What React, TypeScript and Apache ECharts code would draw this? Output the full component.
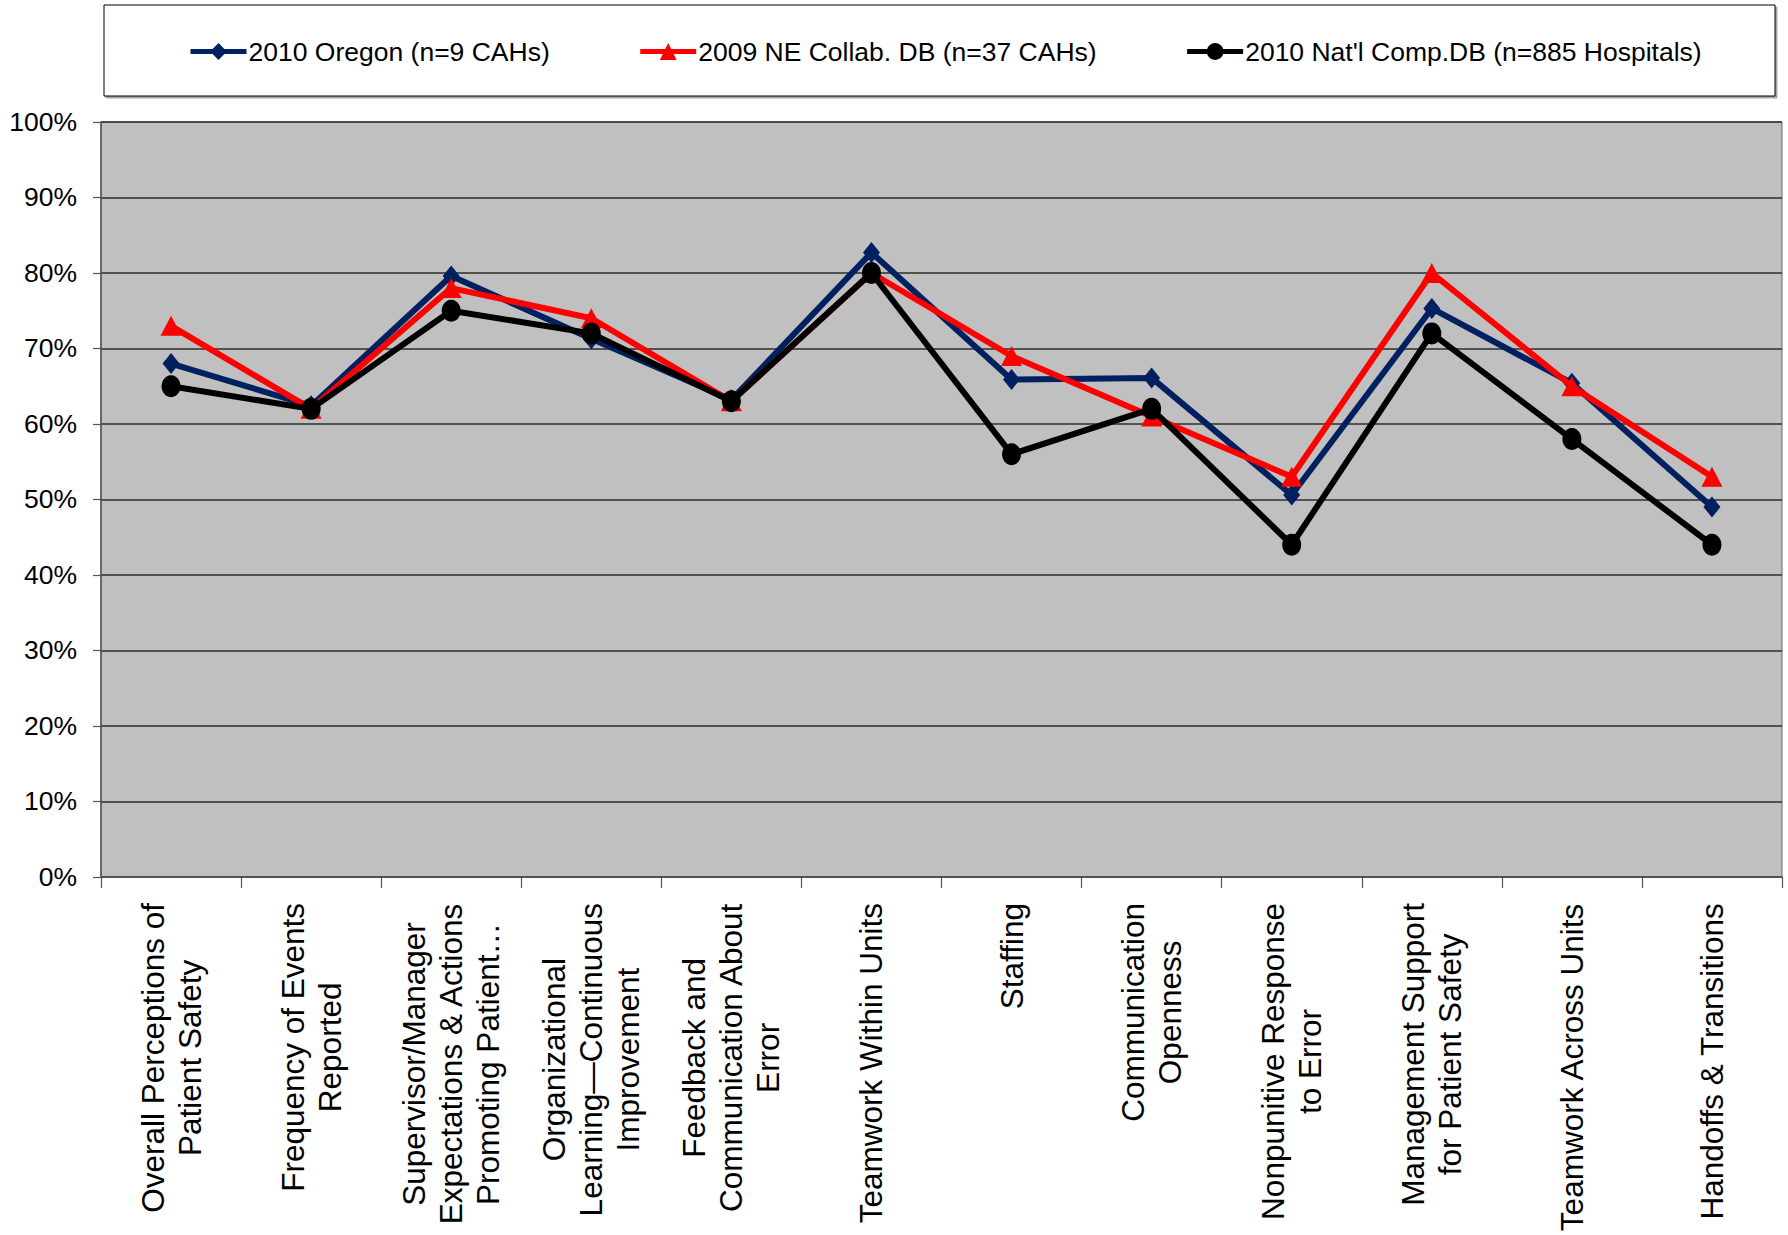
import React, { useEffect, useRef } from "react";
import * as echarts from "echarts";

// Patient-safety culture composites, % positive
const categories = [
  "Overall Perceptions of\nPatient Safety",
  "Frequency of Events\nReported",
  "Supervisor/Manager\nExpectations & Actions\nPromoting Patient…",
  "Organizational\nLearning—Continuous\nImprovement",
  "Feedback and\nCommunication About\nError",
  "Teamwork Within Units",
  "Staffing",
  "Communication\nOpenness",
  "Nonpunitive Response\nto Error",
  "Management Support\nfor Patient Safety",
  "Teamwork Across Units",
  "Handoffs & Transitions",
];

const oregon2010 = [68, 62.4, 79.6, 71.3, 63.2, 82.7, 65.9, 66.1, 50.6, 75.3, 65.4, 49];
const neCollab2009 = [73, 62, 78, 74, 63, 80, 69, 61, 53, 80, 65, 53];
const natlComp2010 = [65, 62, 75, 72, 63, 80, 56, 62, 44, 72, 58, 44];

const seriesNames = [
  "2010 Oregon (n=9 CAHs)",
  "2009 NE Collab. DB (n=37 CAHs)",
  "2010 Nat'l Comp.DB (n=885 Hospitals)",
];

const FONT = "'Liberation Sans', Arial, sans-serif";

export default function App() {
  const ref = useRef<HTMLDivElement>(null);

  useEffect(() => {
    if (!ref.current) return;
    const chart = echarts.init(ref.current, null, { renderer: "svg" });

    chart.setOption({
      animation: false,
      backgroundColor: "#ffffff",
      graphic: [
        {
          type: "rect",
          shape: { x: 104, y: 5, width: 1671, height: 91 },
          style: {
            fill: "#ffffff",
            stroke: "#000000",
            lineWidth: 1,
            shadowColor: "rgba(0,0,0,0.35)",
            shadowOffsetX: 2,
            shadowOffsetY: 2,
            shadowBlur: 0,
          },
          z: -1,
        },
      ],
      legend: {
        left: 188,
        top: 38,
        width: 1580,
        padding: 0,
        itemWidth: 56,
        itemHeight: 21,
        itemGap: 88,
        lineStyle: { width: 5 },
        textStyle: { fontFamily: FONT, fontSize: 26.5, color: "#000", padding: [0, 0, 0, -3] },
        data: seriesNames,
      },
      grid: {
        left: 101,
        right: 6,
        top: 122,
        height: 756,
        show: true,
        backgroundColor: "#C0C0C0",
        borderColor: "#6a6a6a",
        borderWidth: 1,
      },
      xAxis: {
        type: "category",
        data: categories,
        boundaryGap: true,
        axisLine: { show: true, lineStyle: { color: "#555", width: 1.5 } },
        axisTick: { show: true, length: 11, lineStyle: { color: "#555", width: 1.2 } },
        axisLabel: {
          interval: 0,
          rotate: 90,
          margin: 26,
          color: "#000",
          formatter: (v: string) =>
            v
              .split("\n")
              .map((l) => `{c|${l}}`)
              .join("\n"),
          rich: {
            c: {
              align: "center",
              fontFamily: FONT,
              fontSize: 31.5,
              lineHeight: 37,
              color: "#000",
            },
          },
        },
      },
      yAxis: {
        type: "value",
        min: 0,
        max: 100,
        interval: 10,
        axisLine: { show: true, lineStyle: { color: "#555", width: 1.5 } },
        axisTick: { show: true, length: 8, lineStyle: { color: "#555", width: 1.2 } },
        axisLabel: {
          formatter: "{value}%",
          margin: 24,
          color: "#000",
          fontFamily: FONT,
          fontSize: 26.5,
        },
        splitLine: { show: true, lineStyle: { color: "#2e2e2e", width: 1.6 } },
      },
      series: [
        {
          name: seriesNames[0],
          type: "line",
          data: oregon2010,
          symbol: "diamond",
          symbolSize: [17, 21],
          lineStyle: { color: "#002060", width: 6 },
          itemStyle: { color: "#002060" },
          z: 2,
        },
        {
          name: seriesNames[1],
          type: "line",
          data: neCollab2009,
          symbol: "triangle",
          symbolSize: [21, 20],
          lineStyle: { color: "#FF0000", width: 6 },
          itemStyle: { color: "#FF0000" },
          z: 3,
        },
        {
          name: seriesNames[2],
          type: "line",
          data: natlComp2010,
          symbol: "circle",
          symbolSize: [19, 22],
          lineStyle: { color: "#000000", width: 6 },
          itemStyle: { color: "#000000" },
          z: 4,
        },
      ],
    });

    return () => chart.dispose();
  }, []);

  return (
    <div
      ref={ref}
      style={{
        position: "fixed",
        left: 0,
        top: 0,
        width: 1788,
        height: 1235,
        background: "#fff",
      }}
    />
  );
}
